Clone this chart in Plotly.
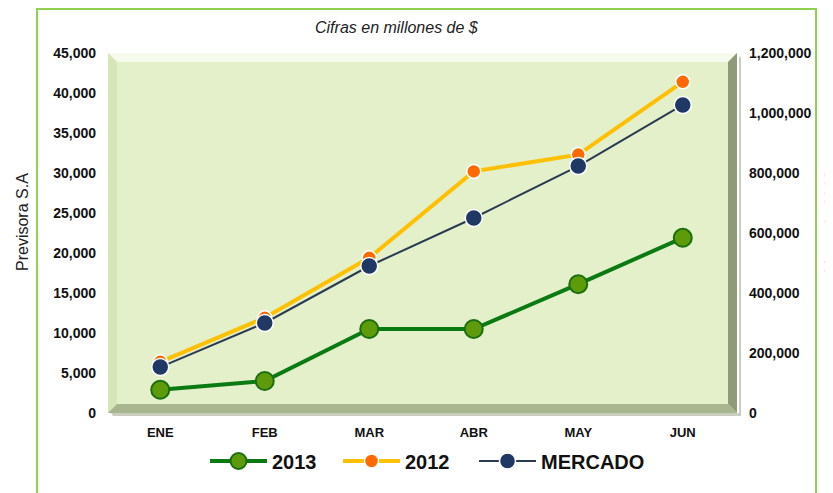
import plotly.graph_objects as go

months = ["ENE", "FEB", "MAR", "ABR", "MAY", "JUN"]
previsora_2013 = [2900, 4000, 10500, 10500, 16100, 21900]
previsora_2012 = [6400, 11900, 19400, 30200, 32300, 41400]
mercado_2013 = [153000, 300000, 490000, 650000, 823000, 1027000]

left_ticks = [0, 5000, 10000, 15000, 20000, 25000, 30000, 35000, 40000, 45000]
right_ticks = [0, 200000, 400000, 600000, 800000, 1000000, 1200000]

# page body has an 8px default margin: lay out in window pixels, then offset
OFF = 8
WIN_W, WIN_H = 833, 493
W, H = WIN_W - OFF, WIN_H - OFF
L, R, T, B = 108, 735, 53, 413  # plot area in window pixels


def px(x):
    return (x - L) / (R - L)


def py(y):
    return (B - y) / (B - T)


def poly(points):
    return "M " + " L ".join(f"{px(a):.5f},{py(b):.5f}" for a, b in points) + " Z"


fig = go.Figure()
fig.add_trace(go.Scatter(
    x=months, y=previsora_2013, name="2013", mode="lines+markers", legend="legend",
    line=dict(color="#0B7A12", width=4),
    marker=dict(size=18, color="#5E9B0A", line=dict(color="#1B6E10", width=2)),
))
fig.add_trace(go.Scatter(
    x=months, y=previsora_2012, name="2012", mode="lines+markers", legend="legend2",
    line=dict(color="#FFC000", width=4),
    marker=dict(size=14, color="#FF6A00", line=dict(color="white", width=1.5)),
))
fig.add_trace(go.Scatter(
    x=months, y=mercado_2013, name="MERCADO", mode="lines+markers", yaxis="y2", legend="legend3",
    line=dict(color="#2A3A52", width=2),
    marker=dict(size=17, color="#1F3864", line=dict(color="white", width=1.5)),
))

bx0, bx1, by0, by1, bw = 108, 737, 53, 413, 9
shapes = [
    # outer chart border
    dict(type="rect", xref="paper", yref="paper", x0=px(37), x1=px(816), y0=py(9), y1=py(520),
         line=dict(color="#92D050", width=2), fillcolor="rgba(0,0,0,0)", layer="below"),
    # shadow
    dict(type="path", xref="paper", yref="paper", layer="below",
         path=poly([(bx0 + 3, by1), (bx1 + 2, by1), (bx1 + 2, by0 + 3), (bx1 + 4, by0 + 5), (bx1 + 4, by1 + 3), (bx0 + 5, by1 + 3)]),
         fillcolor="#C9CDBE", line=dict(width=0)),
    # face
    dict(type="rect", xref="paper", yref="paper", layer="below",
         x0=px(bx0), x1=px(bx1), y0=py(by1), y1=py(by0), fillcolor="#E3F0CA", line=dict(width=0)),
    # top bevel
    dict(type="path", xref="paper", yref="paper", layer="below",
         path=poly([(bx0, by0), (bx1, by0), (bx1 - bw, by0 + bw), (bx0 + bw, by0 + bw)]),
         fillcolor="#F5FAEC", line=dict(width=0)),
    # left bevel
    dict(type="path", xref="paper", yref="paper", layer="below",
         path=poly([(bx0, by0), (bx0 + bw, by0 + bw), (bx0 + bw, by1 - bw), (bx0, by1)]),
         fillcolor="#D6E6B8", line=dict(width=0)),
    # right bevel
    dict(type="path", xref="paper", yref="paper", layer="below",
         path=poly([(bx1, by0), (bx1, by1), (bx1 - bw, by1 - bw), (bx1 - bw, by0 + bw)]),
         fillcolor="#8F9A7A", line=dict(width=0)),
    # bottom bevel
    dict(type="path", xref="paper", yref="paper", layer="below",
         path=poly([(bx0, by1), (bx1, by1), (bx1 - bw, by1 - bw), (bx0 + bw, by1 - bw)]),
         fillcolor="#A9B58E", line=dict(width=0)),
]

FONT = "Liberation Sans, Arial, sans-serif"
tickfont = dict(family=FONT, size=14, color="#111111", weight="bold")
legend_font = dict(family=FONT, size=20, color="#111111", weight="bold")


def legend_at(xpix):
    return dict(orientation="h", x=px(xpix), xanchor="left", y=py(461), yanchor="middle",
                font=legend_font, itemwidth=57, bgcolor="rgba(0,0,0,0)")


fig.update_layout(
    width=W, height=H,
    margin=dict(l=L - OFF, r=W - (R - OFF), t=T - OFF, b=H - (B - OFF), autoexpand=False),
    paper_bgcolor="white", plot_bgcolor="rgba(0,0,0,0)",
    shapes=shapes,
    showlegend=True,
    legend=legend_at(205),
    legend2=legend_at(338),
    legend3=legend_at(474),
    xaxis=dict(type="category", range=[-0.5, 5.5], showgrid=False, zeroline=False, showline=False,
               ticks="", ticklabelstandoff=10,
               tickfont=dict(family=FONT, size=13, color="#111111", weight="bold")),
    yaxis=dict(range=[0, 45000], tickvals=left_ticks, tickformat=",", showgrid=False, zeroline=False,
               showline=False, ticks="", ticklabelstandoff=11, tickfont=tickfont),
    yaxis2=dict(range=[0, 1200000], tickvals=right_ticks, tickformat=",", overlaying="y", side="right",
                showgrid=False, zeroline=False, showline=False, ticks="", ticklabelstandoff=13,
                tickfont=tickfont),
    annotations=[
        dict(text="<i>Cifras en millones de $</i>", xref="paper", yref="paper", x=px(397), y=py(27),
             xanchor="center", yanchor="middle",
             showarrow=False, font=dict(family=FONT, size=16, color="#222222")),
        dict(text="Previsora S.A", xref="paper", yref="paper", x=px(22), y=py(222), textangle=-90,
             xanchor="center", yanchor="middle",
             showarrow=False, font=dict(family=FONT, size=16, color="#222222")),
        dict(text="Mercado 2013", xref="paper", yref="paper", x=px(831), y=py(222), textangle=-90,
             xanchor="center", yanchor="middle",
             showarrow=False, font=dict(family=FONT, size=16, color="#222222")),
    ],
)

fig.write_html("out.html")
